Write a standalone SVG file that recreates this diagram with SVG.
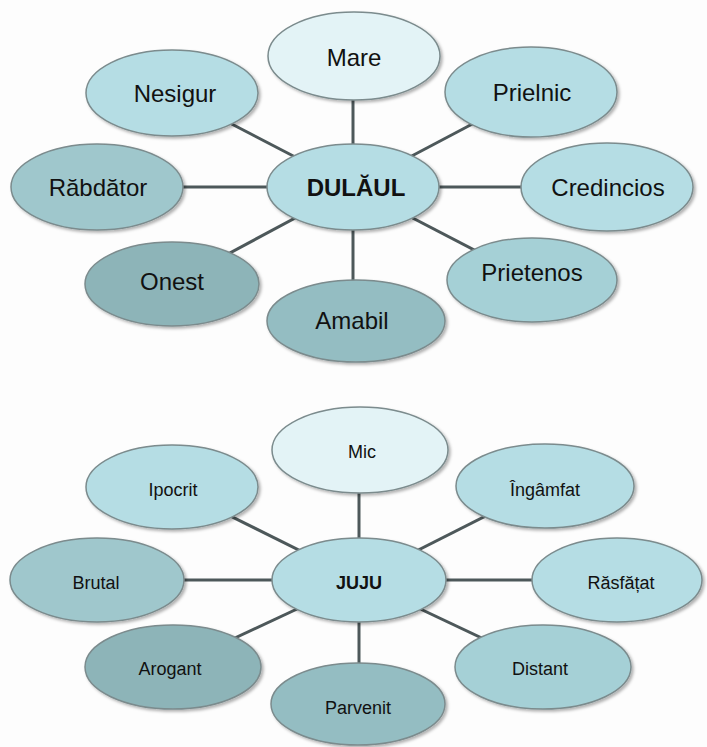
<svg xmlns="http://www.w3.org/2000/svg" width="707" height="747" viewBox="0 0 707 747">
<defs>
<filter id="sh" x="-10%" y="-10%" width="125%" height="130%">
<feDropShadow dx="2" dy="2" stdDeviation="1.5" flood-color="#000" flood-opacity="0.3"/>
</filter>
</defs>
<style>
.n ellipse{stroke:#7b8b8d;stroke-width:1.5;filter:url(#sh)}
.c1{fill:#e3f3f6}
.c2{fill:#b5dde4}
.c3{fill:#9fc7cc}
.c4{fill:#a5d0d6}
.c5{fill:#8db4b8}
.c6{fill:#94bdc2}
.t{font-family:"Liberation Sans",Arial,sans-serif;font-size:24px;fill:#111;text-anchor:middle}
.b{font-family:"Liberation Sans",Arial,sans-serif;font-size:18px;fill:#111;text-anchor:middle}
.bold{font-weight:bold}
.conn line{stroke:#4d585a;stroke-width:3}
</style>
<rect width="707" height="747" fill="#fdfdfd"/>
<g id="connectors" class="conn">
<line x1="353" y1="187" x2="353" y2="57"/>
<line x1="353" y1="187" x2="172" y2="93"/>
<line x1="353" y1="187" x2="531" y2="93"/>
<line x1="353" y1="187" x2="97" y2="187"/>
<line x1="353" y1="187" x2="607" y2="187"/>
<line x1="353" y1="187" x2="172" y2="284"/>
<line x1="353" y1="187" x2="353" y2="321"/>
<line x1="353" y1="187" x2="532" y2="280"/>
<line x1="359" y1="580" x2="359" y2="450"/>
<line x1="359" y1="580" x2="172" y2="487"/>
<line x1="359" y1="580" x2="545" y2="486"/>
<line x1="359" y1="580" x2="97" y2="580"/>
<line x1="359" y1="580" x2="617" y2="580"/>
<line x1="359" y1="580" x2="173" y2="667"/>
<line x1="359" y1="580" x2="359" y2="704"/>
<line x1="359" y1="580" x2="543" y2="667"/>
</g>
<g id="mare" class="n"><ellipse class="c1" cx="354" cy="56" rx="86" ry="44"/><text class="t" x="354" y="66">Mare</text></g>
<g id="nesigur" class="n"><ellipse class="c2" cx="172" cy="93" rx="86" ry="43"/><text class="t" x="175" y="102">Nesigur</text></g>
<g id="prielnic" class="n"><ellipse class="c2" cx="531" cy="92" rx="86" ry="45"/><text class="t" x="532" y="101">Prielnic</text></g>
<g id="rabdator" class="n"><ellipse class="c3" cx="97" cy="187" rx="86" ry="43"/><text class="t" x="98" y="196">Răbdător</text></g>
<g id="dulaul" class="n"><ellipse class="c2" cx="353" cy="187" rx="86" ry="43"/><text class="t bold" x="356" y="196">DULĂUL</text></g>
<g id="credincios" class="n"><ellipse class="c2" cx="607" cy="187" rx="86" ry="44"/><text class="t" x="608" y="196">Credincios</text></g>
<g id="onest" class="n"><ellipse class="c5" cx="172" cy="284" rx="87" ry="42"/><text class="t" x="172" y="290">Onest</text></g>
<g id="prietenos" class="n"><ellipse class="c4" cx="532" cy="280" rx="85" ry="42"/><text class="t" x="532" y="281">Prietenos</text></g>
<g id="amabil" class="n"><ellipse class="c6" cx="356" cy="321" rx="89" ry="41"/><text class="t" x="352" y="329">Amabil</text></g>
<g id="mic" class="n"><ellipse class="c1" cx="360" cy="450" rx="88" ry="43"/><text class="b" x="362" y="458">Mic</text></g>
<g id="ipocrit" class="n"><ellipse class="c2" cx="172" cy="487" rx="86" ry="42"/><text class="b" x="173" y="496">Ipocrit</text></g>
<g id="ingamfat" class="n"><ellipse class="c2" cx="545" cy="486" rx="89" ry="42"/><text class="b" x="545" y="496">Îngâmfat</text></g>
<g id="brutal" class="n"><ellipse class="c3" cx="97" cy="580" rx="87" ry="42"/><text class="b" x="96" y="589">Brutal</text></g>
<g id="juju" class="n"><ellipse class="c2" cx="359" cy="580" rx="87" ry="42"/><text class="b bold" x="359" y="589">JUJU</text></g>
<g id="rasfatat" class="n"><ellipse class="c2" cx="617" cy="580" rx="85" ry="42"/><text class="b" x="621" y="589">Răsfățat</text></g>
<g id="arogant" class="n"><ellipse class="c5" cx="173" cy="667" rx="88" ry="42"/><text class="b" x="170" y="675">Arogant</text></g>
<g id="distant" class="n"><ellipse class="c4" cx="543" cy="667" rx="88" ry="42"/><text class="b" x="540" y="675">Distant</text></g>
<g id="parvenit" class="n"><ellipse class="c6" cx="358" cy="704" rx="87" ry="41"/><text class="b" x="358" y="714">Parvenit</text></g>
</svg>
